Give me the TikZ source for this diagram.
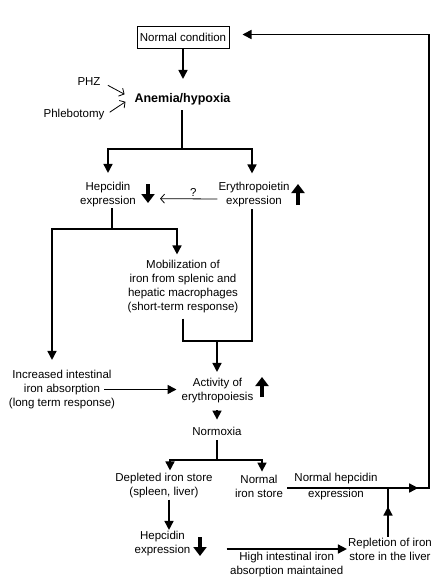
\documentclass[tikz,border=0pt]{standalone}
\usepackage{fontspec}
\setmainfont{Liberation Sans}
\usetikzlibrary{positioning, arrows.meta, calc, decorations.markings}
\tikzset{
  txt/.style={font=\fontsize{11.5}{14}\selectfont, align=center, inner sep=1pt},
  flow/.style={line width=1.6pt, -{Triangle[length=9pt,width=9pt]}},
  link/.style={line width=1.6pt},
  hint/.style={line width=0.8pt, -{Straight Barb[length=4pt,width=9pt]}},
  updown/.style={line width=4pt, -{Triangle[length=9pt,width=13pt]}},
  midtip/.style={postaction={decorate}, decoration={markings,
      mark=at position #1 with {\arrow{Triangle[length=9pt,width=9pt]}}}},
}

\begin{document}
\begin{tikzpicture}[x=1pt, y=-1pt]
    \useasboundingbox (0,0) rectangle (435,586);
    % Ausgangszustand und Ausloeser
    \node[txt, draw, line width=1pt, minimum width=92pt, minimum height=21.6pt] (normal) at (183,37.5) {Normal condition};
    \node[txt, font=\bfseries\fontsize{12.5}{15}\selectfont] (anemia) at (182.5,99) {Anemia/hypoxia};
    \node[txt] (phz) at (89,82) {PHZ};
    \node[txt] (phleb) at (74,115) {Phlebotomy};
    % erste Reaktion
    \node[txt] (hep1) at (108,194.5) {Hepcidin\\expression};
    \node[txt] (epo) at (254,195) {Erythropoietin\\expression};
    \node[txt] (mobil) at (183,287) {Mobilization of\\iron from splenic and\\hepatic macrophages\\(short-term response)};
    \node[txt] (incr) at (62,389.5) {Increased intestinal\\iron absorption\\(long term response)};
    \node[txt] (activ) at (217.5,390.5) {Activity of\\erythropoiesis};
    \node[txt] (normox) at (217,431) {Normoxia};
    % Eisenspeicher nach der Normoxie
    \node[txt] (depl) at (164,486) {Depleted iron store\\(spleen, liver)};
    \node[txt] (nstore) at (259,486) {Normal\\iron store};
    \node[txt] (nhep) at (336,487) {Normal hepcidin\\[2pt]expression};
    \node[txt] (hep2) at (162.5,543.5) {Hepcidin\\expression};
    \node[txt] (repl) at (390,549) {Repletion of iron\\store in the liver};
    % Verzweigungen
    \coordinate (fork1) at (182,149);
    \coordinate (fork2) at (112,229);
    \coordinate (merge) at (217,341);
    \coordinate (fork3) at (217,460);
    \coordinate (loop) at (429,488);
    % Verbindungen oben
    \draw[flow, shorten >=13pt] (normal.south) -- (normal.south |- anemia.north);
    \draw[hint, shorten <=7pt, shorten >=10pt] (phz.east) -- (anemia.west);
    \draw[hint, shorten <=5pt, shorten >=9.5pt] (phleb.east) -- ([yshift=2.5pt]anemia.west);
    \draw[link, shorten <=4pt] (anemia.south -| fork1) -- (fork1);
    \draw[flow, shorten >=8pt] (fork1) -| (hep1.north);
    \draw[flow, shorten >=8pt] (fork1) -| ([xshift=-2pt]epo.north);
    \draw[hint, shorten >=23pt] ([yshift=-4pt]epo.west) -- ([yshift=-4pt]hep1.east)
      node[txt, pos=0.3, above=1pt] (qm) {?};
    % Hepcidin und Erythropoetin
    \draw[link] (hep1.south -| fork2) -- (fork2);
    \draw[flow, shorten >=5pt] (fork2) -| ([xshift=-6pt]mobil.north);
    \draw[flow, shorten >=9pt] (fork2) -| ([xshift=-10pt]incr.north);
    \draw[link, shorten <=4pt] (mobil.south) |- ($(epo.south |- merge)+(-2,0)$) -- ([xshift=-2pt]epo.south);
    \draw[flow, shorten >=5pt] (merge) -- (merge |- activ.north);
    \draw[flow, shorten >=4pt] ([xshift=42pt]incr.center) -- (activ.west |- incr.center);
    \draw[flow, shorten <=6pt, shorten >=6pt] (activ.south -| merge) -- (merge |- normox.north);
    % Normoxie und Rueckkopplung
    \draw[link, shorten <=4pt] (normox.south) -- (fork3);
    \draw[flow, shorten >=2pt] (fork3) -| ([xshift=6pt]depl.north);
    \draw[flow, shorten >=2pt] (fork3) -| ([xshift=3pt]nstore.north);
    \draw[flow] ([xshift=5pt]depl.south) -- ([xshift=5pt]depl.south |- hep2.north);
    \draw[flow, midtip=134pt, shorten <=3pt, shorten >=13pt] ([yshift=-2pt]nstore.east) -- (loop) |- ([yshift=3pt]normal.east);
    \draw[link, midtip=30pt] ([xshift=-2pt]repl.north) -- ([xshift=-2pt]repl.north |- loop);
    \draw[flow] ($(hep2.east |- repl.west)+(35,0)$) -- (repl.west)
      node[txt, midway, below=1pt] (high) {High intestinal iron\\absorption maintained};
    % dicke Pfeile: hoch / runter
    \draw[updown] (148,184) -- (148,203);
    \draw[updown] (298,205) -- (298,184);
    \draw[updown] (262,397) -- (262,377);
    \draw[updown] (200,537) -- (200,556);
  \end{tikzpicture}
\end{document}
